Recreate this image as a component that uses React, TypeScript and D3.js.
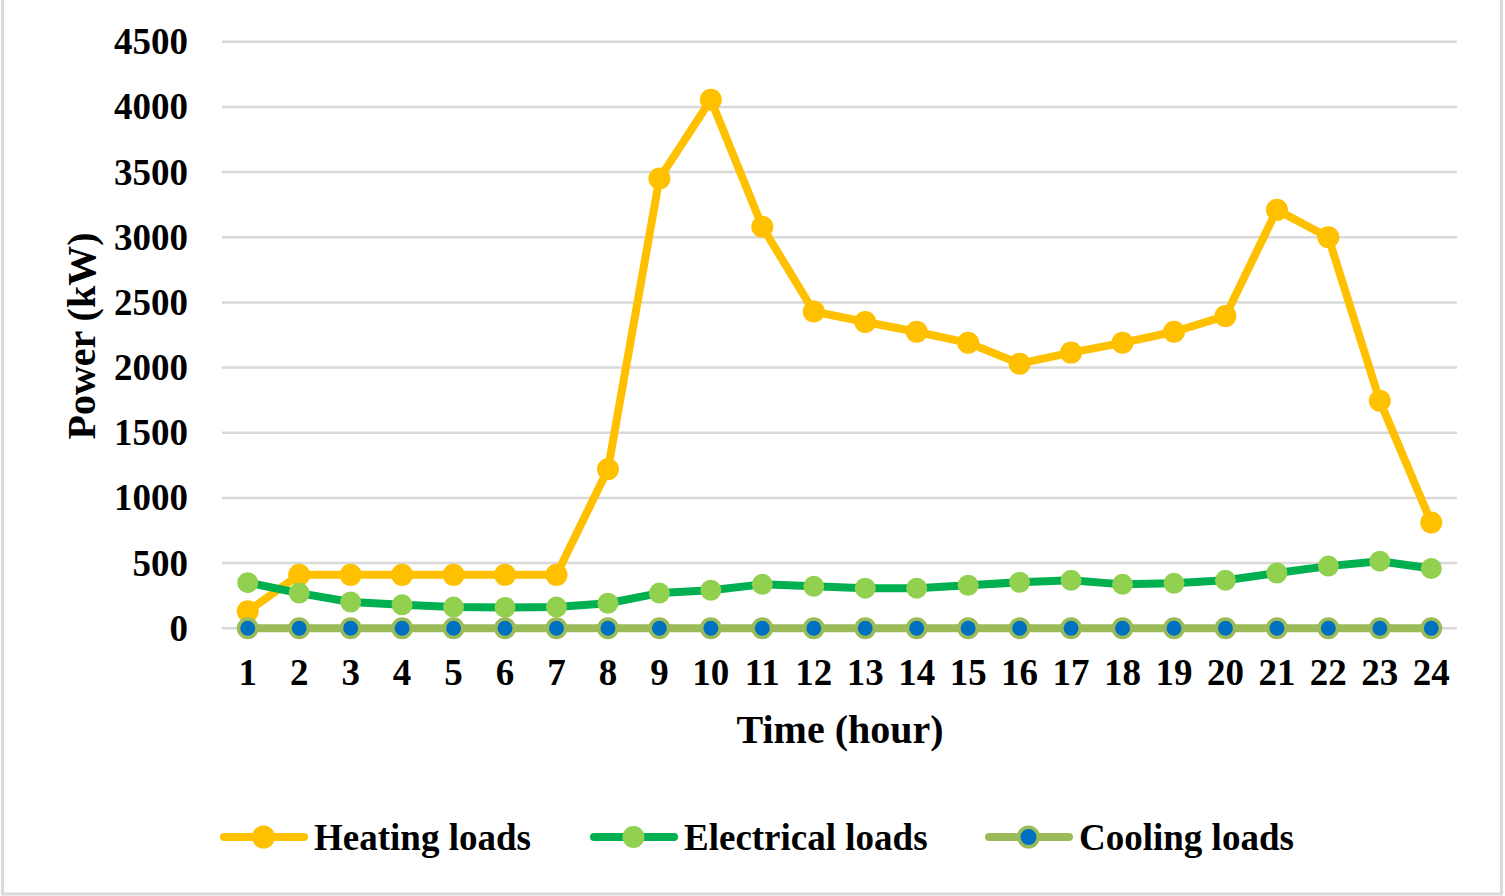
import { useEffect, useRef } from "react"
import * as d3 from "d3"

const hours: string[] = d3.range(1, 25).map(String)

const heatingLoads: number[] = [
  130, 410, 410, 410, 410, 410, 410, 1220, 3450, 4055, 3080, 2430,
  2350, 2275, 2190, 2030, 2115, 2190, 2275, 2395, 3210, 3000, 1745, 812,
]

const electricalLoads: number[] = [
  350, 270, 202, 180, 163, 160, 163, 192, 270, 292, 337, 322,
  308, 308, 330, 353, 368, 337, 345, 368, 424, 477, 515, 459,
]

const coolingLoads: number[] = [
  0, 0, 0, 0, 0, 0, 0, 0, 0, 0, 0, 0,
  0, 0, 0, 0, 0, 0, 0, 0, 0, 0, 0, 0,
]

const yTicks: number[] = [0, 500, 1000, 1500, 2000, 2500, 3000, 3500, 4000, 4500]

type Series = {
  name: string
  values: number[]
  line: string
  fill: string
  stroke: string
  r: number
}

const series: Series[] = [
  { name: "Heating loads", values: heatingLoads, line: "#ffc000", fill: "#ffc000", stroke: "none", r: 11 },
  { name: "Electrical loads", values: electricalLoads, line: "#00b050", fill: "#92d050", stroke: "none", r: 10.5 },
  { name: "Cooling loads", values: coolingLoads, line: "#9bbb59", fill: "#0070c0", stroke: "#9bbb59", r: 9.25 },
]

export default function App() {
  const svgRef = useRef<SVGSVGElement | null>(null)

  useEffect(() => {
    if (!svgRef.current) return

    const width = 1505
    const height = 896
    const font = "'Liberation Serif', 'Times New Roman', serif"

    const svg = d3.select(svgRef.current).attr("width", width).attr("height", height)
    svg.selectAll("*").remove()

    // border
    svg
      .append("rect")
      .attr("x", 2.5)
      .attr("y", -2)
      .attr("width", 1499)
      .attr("height", 896)
      .attr("fill", "#fff")
      .attr("stroke", "#d9d9d9")
      .attr("stroke-width", 3)

    const x = d3.scalePoint<string>().domain(hours).range([222, 1457]).padding(0.5)
    const y = d3.scaleLinear().domain([0, 4500]).range([628.3, 41.7])

    // gridlines
    svg
      .append("g")
      .selectAll("line")
      .data(yTicks)
      .join("line")
      .attr("x1", 222)
      .attr("x2", 1457)
      .attr("y1", d => y(d))
      .attr("y2", d => y(d))
      .attr("stroke", "#d9d9d9")
      .attr("stroke-width", 2.5)

    // y tick labels
    svg
      .append("g")
      .selectAll("text")
      .data(yTicks)
      .join("text")
      .attr("x", 188)
      .attr("y", d => y(d) + 12.5)
      .attr("text-anchor", "end")
      .attr("font-family", font)
      .attr("font-weight", "bold")
      .attr("font-size", 37)
      .text(d => d)

    // x tick labels
    svg
      .append("g")
      .selectAll("text")
      .data(hours)
      .join("text")
      .attr("x", d => x(d) ?? 0)
      .attr("y", 685)
      .attr("text-anchor", "middle")
      .attr("font-family", font)
      .attr("font-weight", "bold")
      .attr("font-size", 37)
      .text(d => d)

    // axis titles
    svg
      .append("text")
      .attr("x", 840)
      .attr("y", 743)
      .attr("text-anchor", "middle")
      .attr("font-family", font)
      .attr("font-weight", "bold")
      .attr("font-size", 40)
      .text("Time (hour)")

    svg
      .append("text")
      .attr("transform", "translate(95, 336) rotate(-90)")
      .attr("text-anchor", "middle")
      .attr("font-family", font)
      .attr("font-weight", "bold")
      .attr("font-size", 40)
      .text("Power (kW)")

    const line = d3
      .line<number>()
      .x((_, i) => x(hours[i]) ?? 0)
      .y(d => y(d))

    series.forEach(s => {
      const g = svg.append("g")
      g.append("path")
        .datum(s.values)
        .attr("fill", "none")
        .attr("stroke", s.line)
        .attr("stroke-width", 8)
        .attr("stroke-linejoin", "round")
        .attr("d", line)
      g.selectAll("circle")
        .data(s.values)
        .join("circle")
        .attr("cx", (_, i) => x(hours[i]) ?? 0)
        .attr("cy", d => y(d))
        .attr("r", s.r)
        .attr("fill", s.fill)
        .attr("stroke", s.stroke)
        .attr("stroke-width", 3.5)
    })

    // legend
    const legendX = [220, 590, 985]
    const legendY = 837
    series.forEach((s, i) => {
      const g = svg.append("g").attr("transform", `translate(${legendX[i]}, ${legendY})`)
      g.append("line")
        .attr("x1", 4)
        .attr("x2", 84)
        .attr("stroke", s.line)
        .attr("stroke-width", 8)
        .attr("stroke-linecap", "round")
      g.append("circle")
        .attr("cx", 43.5)
        .attr("r", s.r + 0.5)
        .attr("fill", s.fill)
        .attr("stroke", s.stroke)
        .attr("stroke-width", 3.5)
      g.append("text")
        .attr("x", 94)
        .attr("y", 12.5)
        .attr("font-family", font)
        .attr("font-weight", "bold")
        .attr("font-size", 37)
        .text(s.name)
    })
  }, [])

  return (
    <div style={{ position: "absolute", left: 0, top: 0 }}>
      <svg ref={svgRef} style={{ display: "block" }} />
    </div>
  )
}
